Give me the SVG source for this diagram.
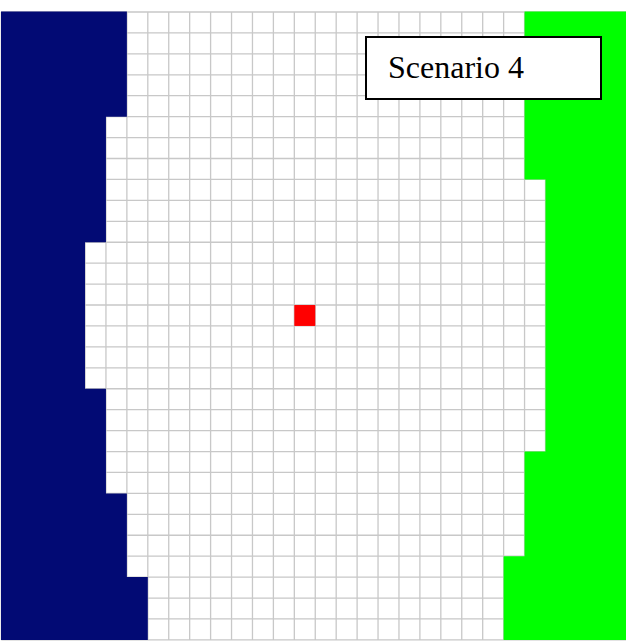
<svg xmlns="http://www.w3.org/2000/svg" width="626" height="644" viewBox="0 0 626 644">
<style>
.grid{stroke:#c8c8c8;stroke-width:1.3;fill:none}
.label{font-family:"Liberation Serif","Times New Roman",serif;font-size:32px;fill:#000}
</style>
<rect x="0" y="0" width="626" height="644" fill="#ffffff"/>
<g id="grid">
<path class="grid" d="M1.3,12V639.9M22.23,12V639.9M43.16,12V639.9M64.09,12V639.9M85.02,12V639.9M105.95,12V639.9M126.88,12V639.9M147.81,12V639.9M168.74,12V639.9M189.67,12V639.9M210.6,12V639.9M231.53,12V639.9M252.46,12V639.9M273.39,12V639.9M294.32,12V639.9M315.25,12V639.9M336.18,12V639.9M357.11,12V639.9M378.04,12V639.9M398.97,12V639.9M419.9,12V639.9M440.83,12V639.9M461.76,12V639.9M482.69,12V639.9M503.62,12V639.9M524.55,12V639.9M545.48,12V639.9M566.41,12V639.9M587.34,12V639.9M608.27,12V639.9"/>
<path class="grid" d="M1.3,12H629M1.3,32.93H629M1.3,53.86H629M1.3,74.79H629M1.3,95.72H629M1.3,116.65H629M1.3,137.58H629M1.3,158.51H629M1.3,179.44H629M1.3,200.37H629M1.3,221.3H629M1.3,242.23H629M1.3,263.16H629M1.3,284.09H629M1.3,305.02H629M1.3,325.95H629M1.3,346.88H629M1.3,367.81H629M1.3,388.74H629M1.3,409.67H629M1.3,430.6H629M1.3,451.53H629M1.3,472.46H629M1.3,493.39H629M1.3,514.32H629M1.3,535.25H629M1.3,556.18H629M1.3,577.11H629M1.3,598.04H629M1.3,618.97H629M1.3,639.9H629"/>
</g>
<g id="navy-region">
<path fill="#020a74" d="M1,11.5H126.88V116.65H105.95V242.23H85.02V388.74H105.95V493.39H126.88V577.11H147.81V639.9H1Z"/>
</g>
<g id="green-region">
<path fill="#00ff00" d="M524.55,11.5H626V639.9H503.62V556.18H524.55V451.53H545.48V179.44H524.55Z"/>
</g>
<g id="target">
<rect x="294.32" y="305.02" width="20.93" height="20.93" fill="#ff0000"/>
</g>
<g id="label">
<rect x="366" y="37" width="235" height="62" fill="#ffffff" stroke="#000000" stroke-width="2"/>
<text class="label" x="388" y="78">Scenario 4</text>
</g>
</svg>
